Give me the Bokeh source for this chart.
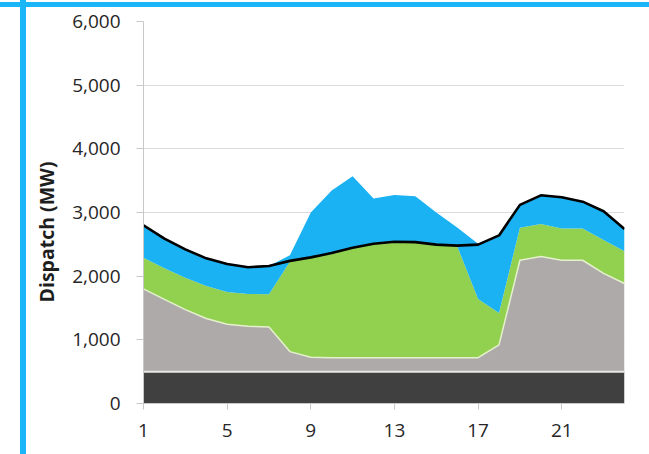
from bokeh.plotting import figure
from bokeh.models import ColumnDataSource, NumeralTickFormatter, FixedTicker, Title, Range1d
from bokeh.transform import stack
from bokeh.embed import file_html
from bokeh.resources import INLINE

hours = list(range(1, 25))
base = [500] * 24
grey = [1300, 1135, 975, 835, 745, 715, 700, 315, 225, 220, 220, 220,
        220, 220, 220, 220, 220, 420, 1750, 1810, 1750, 1750, 1545, 1385]
green = [490, 490, 500, 510, 505, 505, 515, 1410, 1565, 1635, 1715, 1780,
         1810, 1805, 1765, 1750, 920, 500, 510, 510, 500, 500, 525, 505]
blue = [510, 465, 445, 435, 440, 420, 445, 105, 710, 990, 1135, 720,
        745, 730, 515, 295, 870, 1220, 360, 450, 490, 420, 450, 350]
demand = [2800, 2590, 2420, 2280, 2190, 2140, 2160, 2240, 2295, 2365, 2445, 2510,
          2540, 2535, 2495, 2480, 2495, 2640, 3120, 3270, 3240, 3170, 3020, 2740]
x_ticks = [1, 5, 9, 13, 17, 21]
y_ticks = [0, 1000, 2000, 3000, 4000, 5000, 6000]

src = ColumnDataSource(dict(hour=hours, base=base, grey=grey, green=green,
                            blue=blue, demand=demand))

CYAN = "#1ab6f7"
p = figure(width=649, height=454, output_backend="svg", toolbar_location=None,
           x_range=Range1d(1, 24), y_range=Range1d(0, 6000),
           min_border_left=143, min_border_right=25, min_border_top=21,
           min_border_bottom=51)
p.styles = {
    "position": "absolute", "left": "0px", "top": "0px",
    "background-color": "white",
    "background-image": f"linear-gradient({CYAN},{CYAN}), linear-gradient({CYAN},{CYAN})",
    "background-size": "649px 5px, 6px 454px",
    "background-position": "0px 2px, 20px 0px",
    "background-repeat": "no-repeat",
}
p.outline_line_color = None
p.background_fill_color = "white"
p.border_fill_alpha = 0

p.varea_stack(stackers=["base", "grey", "green", "blue"], x="hour",
              color=["#404040", "#aeaaaa", "#92d050", "#1ab2f2"], source=src)
p.line(x="hour", y=stack("base"), source=src, line_color="#e8e8e8", line_width=2)
p.line(x="hour", y=stack("base", "grey"), source=src, line_color="#e4f1cc", line_width=1.5)
p.line(x="hour", y="demand", source=src, line_color="black", line_width=2.6,
       line_join="round")

p.xgrid.grid_line_color = None
p.ygrid.grid_line_color = "#dcdcdc"
p.ygrid.grid_line_width = 1
p.ygrid.ticker = FixedTicker(ticks=y_ticks)

p.yaxis.ticker = FixedTicker(ticks=y_ticks)
p.yaxis.formatter = NumeralTickFormatter(format="0,0")
p.xaxis.ticker = FixedTicker(ticks=x_ticks)
for ax in (p.xaxis, p.yaxis):
    ax.axis_line_color = "#c8c8c8"
    ax.major_tick_line_color = "#c8c8c8"
    ax.minor_tick_line_color = None
    ax.major_tick_in = 0
    ax.major_label_text_font = "Open Sans"
    ax.major_label_text_font_size = "19px"
    ax.major_label_text_color = "#262626"
p.yaxis.major_tick_out = 7
p.xaxis.major_tick_out = 6
p.yaxis.major_label_standoff = 16
p.xaxis.major_label_standoff = 14

p.add_layout(Title(text="Dispatch (MW)", align="left", offset=101, standoff=20,
                   text_font="Open Sans", text_font_style="bold",
                   text_font_size="19.5px", text_color="#1e1e1e"), "left")

open("out.html", "w").write(file_html(p, INLINE))
